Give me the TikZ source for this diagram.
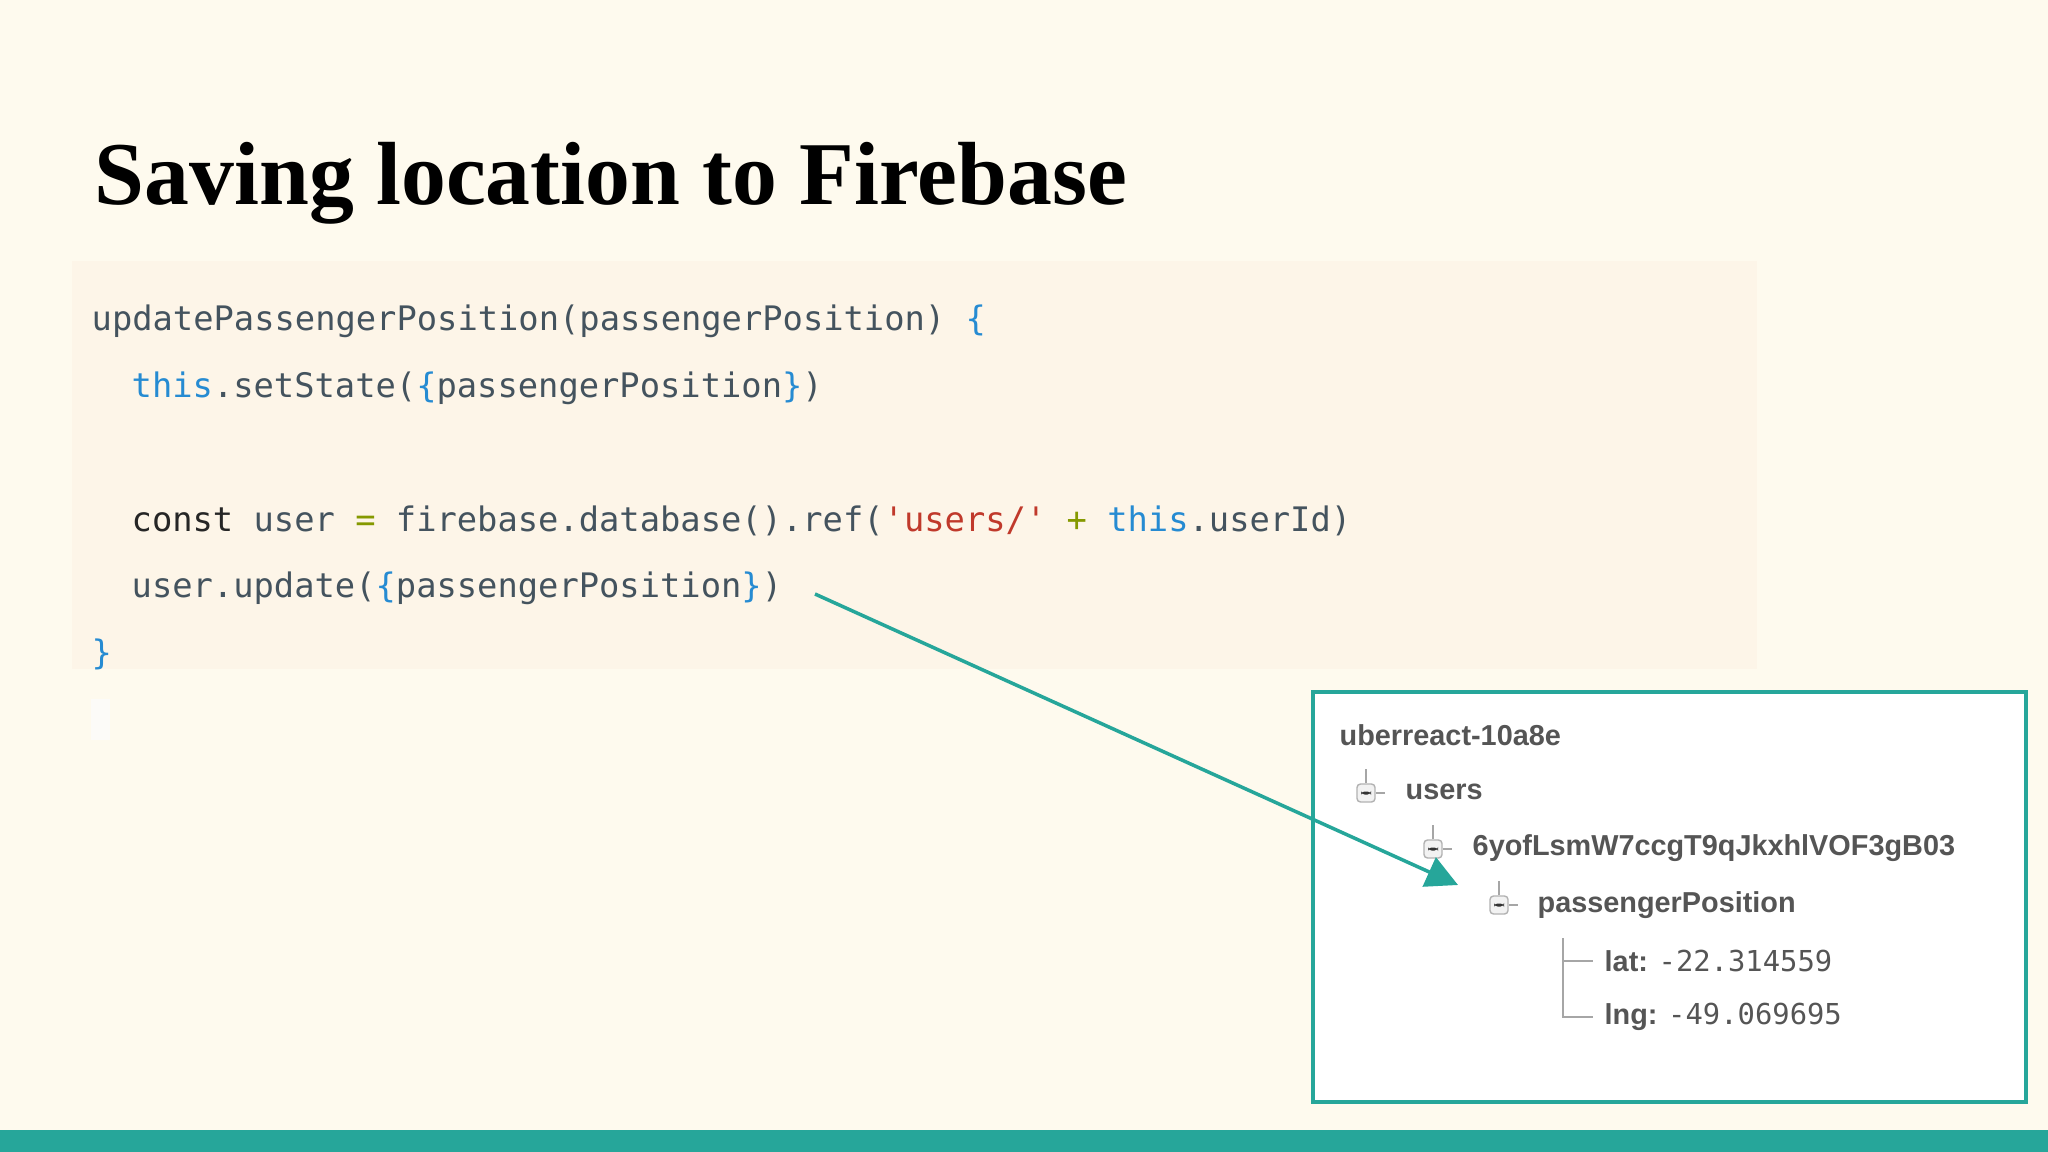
\documentclass[tikz,border=0pt]{standalone}
\usepackage{fontspec}
\setmainfont{Liberation Serif}
\setsansfont{Liberation Sans}
\setmonofont{DejaVu Sans Mono}
\usetikzlibrary{arrows.meta}
\definecolor{bg}{HTML}{FEFAEE}
\definecolor{codebg}{HTML}{FDF5E8}
\definecolor{teal}{HTML}{26A69A}
\definecolor{ctxt}{HTML}{44535E}
\definecolor{kw}{HTML}{268BD2}
\definecolor{str}{HTML}{C0392B}
\definecolor{op}{HTML}{859900}
\definecolor{tgrey}{HTML}{555555}
\tikzset{
 code/.style={anchor=west,inner sep=0,font=\fontsize{9.6pt}{11pt}\ttfamily,text=ctxt},
 tree/.style={anchor=west,inner sep=0,font=\fontsize{8.2pt}{10pt}\sffamily\bfseries,text=tgrey},
 minus/.style={draw=gray!60,fill=gray!10,minimum size=0.18cm,inner sep=0,rounded corners=1pt,
   path picture={\fill[black!80] ([xshift=-0.05cm,yshift=-0.015cm]path picture bounding box.center) rectangle ++(0.1cm,0.03cm);}},
 link/.style={gray!70,line width=0.4pt}
}
\begin{document}
\begin{tikzpicture}[x=0.01cm,y=-0.01cm]
\fill[bg] (0,0) rectangle (2048,1152);
\useasboundingbox (0,0) rectangle (2048,1152);
\fill[teal] (0,1130) rectangle (2048,1152);
\node[anchor=base west,inner sep=0,font=\fontsize{25.5pt}{30pt}\bfseries] (title) at (94,205) {Saving location to Firebase};
\fill[codebg] (72,261) rectangle (1757,669);
\fill[codebg!90!gray!20] (91,699) rectangle (110,740);
\node[code] (l1) at (91,321) {updatePassengerPosition(passengerPosition) \textcolor{kw}{\{}};
\node[code] (l2) at (131,388) {\textcolor{kw}{this}.setState(\textcolor{kw}{\{}passengerPosition\textcolor{kw}{\}})};
\node[code] (l3) at (131,521) {\textcolor{black!85}{const} user \textcolor{op}{=} firebase.database().ref(\textcolor{str}{'users/'} \textcolor{op}{+} \textcolor{kw}{this}.userId)};
\node[code] (l4) at (131,588) {user.update(\textcolor{kw}{\{}passengerPosition\textcolor{kw}{\}})};
\node[code] (l5) at (91,654) {\textcolor{kw}{\}}};
\draw[draw=teal,line width=1.3pt,fill=white] (1313,692) rectangle (2026,1102);
\node[tree] (root) at (1339,735) {uberreact-10a8e};
\node[minus] (m1) at (1366,793) {};
\node[tree] (users) at (1405,792) {users};
\node[minus] (m2) at (1433,849) {};
\node[tree] (uid) at (1472,848) {6yofLsmW7ccgT9qJkxhlVOF3gB03};
\node[minus] (m3) at (1499,905) {};
\node[tree] (pp) at (1537,905) {passengerPosition};
\node[tree] (lat) at (1604,961) {lat: \texttt{\mdseries -22.314559}};
\node[tree] (lng) at (1604,1017) {lng: \texttt{\mdseries -49.069695}};
\foreach \m in {m1,m2,m3}{
 \draw[link] (\m.north) -- ++(0,-14);
 \draw[link] (\m.east) -- ++(9,0);
}
\coordinate (v) at (1563,938);
\draw[link] (v) |- ([xshift=-3pt]lat.west);
\draw[link] (v) |- ([xshift=-3pt]lng.west);
\coordinate (from) at (815,594);
\coordinate (tip) at (1458,885);
\draw[teal,line width=1pt,-{Triangle[length=9pt,width=9pt]}] (from) -- (tip);
\end{tikzpicture}
\end{document}
